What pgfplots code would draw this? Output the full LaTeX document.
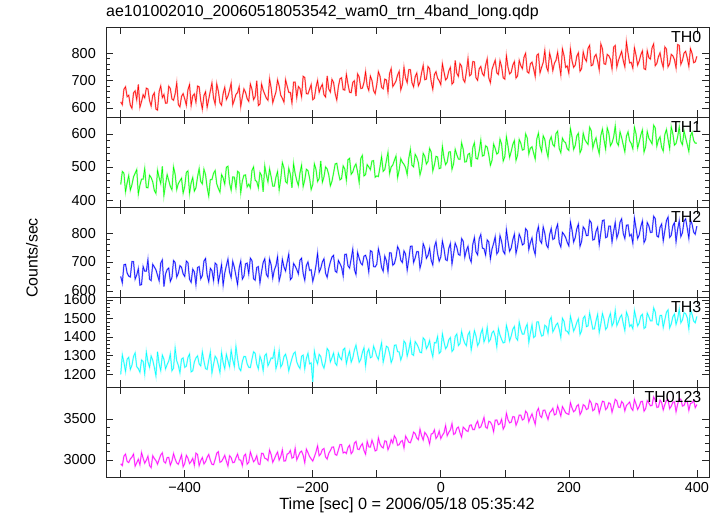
\documentclass[border=0pt]{standalone}
\usepackage{fontspec}
\setmainfont{Liberation Sans}
\usepackage{pgfplots}
\usepackage{pgfplotstable}
\pgfplotsset{compat=1.18}
\definecolor{cR}{rgb}{1,0,0}
\definecolor{cG}{rgb}{0,1,0}
\definecolor{cB}{rgb}{0,0,1}
\definecolor{cC}{rgb}{0,1,1}
\definecolor{cM}{rgb}{1,0,1}

\pgfplotstableread{
t a b c d e
-500 622 447 650 1198 2950
-497.5 612 486 628 1303 2930
-495 668 481 690 1262 3045
-492.5 677 425 692 1214 3070
-490 641 452 662 1280 2980
-487.5 646 474 651 1290 2967
-485 610 430 648 1225 3010
-482.5 599 446 701 1247 3033
-480 655 470 701 1295 3070
-477.5 662 481 641 1314 2922
-475 630 492 655 1240 2965
-472.5 686 418 677 1229 3007
-470 603 445 620 1210 2940
-467.5 623 463 622 1276 3088
-465 648 463 684 1268 3020
-462.5 637 495 668 1201 2959
-460 672 438 668 1318 2995
-457.5 669 437 708 1266 3044
-455 627 475 640 1236 2930
-452.5 607 468 636 1297 2904
-450 645 455 692 1275 3050
-447.5 655 429 683 1236 3016
-445 596 420 673 1190 2990
-442.5 592 490 654 1321 2947
-440 660 468 635 1255 3005
-437.5 680 450 696 1219 3059
-435 638 502 707 1302 3085
-432.5 649 414 615 1280 2978
-430 617 447 658 1228 2960
-427.5 618 477 674 1251 3027
-425 679 459 679 1270 3030
-422.5 671 441 633 1308 2935
-420 633 431 646 1218 2985
-417.5 628 500 705 1232 3075
-415 651 478 698 1340 3010
-412.5 691 432 648 1271 2962
-410 612 450 661 1247 2945
-407.5 604 458 687 1207 3002
-405 642 466 682 1281 3060
-402.5 652 421 659 1287 2916
-400 633 441 650 1236 2955
-397.5 610 484 703 1242 3054
-395 666 488 698 1289 3020
-392.5 685 420 640 1308 2955
-390 609 452 630 1212 2980
-387.5 644 468 675 1217 3018
-385 651 427 666 1265 2935
-382.5 621 437 622 1287 3081
-380 680 470 681 1298 3065
-377.5 677 495 684 1255 2929
-375 627 456 642 1244 2990
-372.5 596 449 653 1320 3027
-370 645 493 703 1270 2950
-367.5 659 477 712 1229 2977
-365 603 438 655 1225 3030
-362.5 632 412 632 1275 3066
-360 662 462 678 1318 2995
-357.5 691 462 670 1206 2946
-355 636 481 636 1252 2940
-352.5 614 489 696 1296 3004
-350 688 449 691 1283 3080
-347.5 661 435 630 1248 3099
-345 619 424 658 1208 2970
-342.5 610 477 691 1316 2980
-340 653 467 620 1262 3015
-337.5 675 448 662 1229 3055
-335 631 499 687 1306 2985
-332.5 643 502 710 1273 2924
-330 664 451 665 1240 3050
-327.5 690 430 646 1328 3027
-325 612 470 702 1277 2965
-322.5 629 469 682 1241 2969
-320 649 436 652 1349 3025
-317.5 656 487 622 1284 3070
-315 677 483 679 1231 3000
-312.5 605 422 703 1218 2996
-310 640 458 641 1268 2930
-307.5 669 475 651 1295 3046
-305 657 476 694 1294 3070
-302.5 634 440 696 1255 2947
-300 624 448 659 1236 2970
-297.5 687 437 713 1235 3096
-295 668 489 705 1280 3035
-292.5 630 500 642 1320 2976
-290 641 460 637 1312 3000
-287.5 699 456 681 1253 3050
-285 609 437 684 1228 2950
-282.5 614 483 628 1296 2943
-280 687 474 666 1271 3080
-277.5 665 425 698 1219 3077
-275 650 503 711 1299 3020
-272.5 636 476 657 1309 3012
-270 628 455 648 1245 2990
-267.5 706 494 710 1264 3119
-265 673 470 690 1287 3065
-262.5 619 442 644 1284 2970
-260 639 442 673 1328 3010
-257.5 658 469 687 1229 3058
-255 702 486 718 1260 3095
-252.5 680 431 635 1325 2997
-250 646 464 657 1238 3040
-247.5 635 513 709 1253 3122
-245 621 497 683 1294 2985
-242.5 703 456 669 1307 2987
-240 680 451 700 1273 3070
-237.5 657 496 727 1217 3079
-235 657 478 639 1252 3115
-232.5 618 437 646 1284 3020
-230 694 510 695 1310 3030
-227.5 694 480 686 1319 3141
-225 638 459 674 1266 3000
-222.5 678 444 659 1244 3043
-220 671 482 706 1230 3090
-217.5 641 505 713 1296 3107
-215 715 441 660 1302 3055
-212.5 711 461 637 1229 2965
-210 652 493 688 1285 3130
-207.5 651 489 700 1312 3088
-205 668 467 671 1255 3040
-202.5 685 432 673 1260 3011
-200 630 447 633 1158 2985
-197.5 635 509 655 1323 3037
-195 675 493 687 1280 3095
-192.5 700 456 730 1255 3171
-190 657 465 665 1306 3050
-187.5 675 518 678 1295 3073
-185 686 454 700 1251 3125
-182.5 648 470 711 1232 3138
-180 640 500 661 1272 3035
-177.5 717 494 647 1338 3010
-175 669 476 678 1325 3080
-172.5 658 443 700 1266 3113
-170 704 457 717 1288 3155
-167.5 693 482 723 1313 3157
-165 652 509 669 1259 3065
-162.5 629 511 664 1247 3056
-160 678 483 705 1312 3120
-157.5 706 461 694 1289 3186
-155 710 465 682 1277 3185
-152.5 667 503 652 1331 3084
-150 665 494 726 1340 3095
-147.5 722 460 727 1256 3078
-145 687 522 687 1295 3150
-142.5 657 526 679 1324 3178
-140 656 478 711 1264 3075
-137.5 693 485 744 1287 3101
-135 699 501 674 1330 3205
-132.5 643 509 657 1356 3225
-130 724 485 733 1308 3130
-127.5 713 453 713 1264 3126
-125 671 526 696 1279 3170
-122.5 672 535 690 1317 3197
-120 693 473 720 1342 3115
-117.5 732 477 723 1245 3068
-115 680 507 705 1316 3225
-112.5 664 500 666 1335 3159
-110 716 492 739 1288 3155
-107.5 700 518 736 1293 3240
-105 663 519 684 1350 3185
-102.5 652 469 683 1326 3109
-100 685 473 692 1296 3120
-97.5 732 471 745 1279 3268
-95 716 500 721 1327 3195
-92.5 675 531 681 1368 3159
-90 670 487 668 1265 3145
-87.5 705 492 720 1304 3232
-85 702 519 705 1350 3225
-82.5 658 544 667 1344 3124
-80 726 480 732 1311 3170
-77.5 743 500 731 1262 3247
-75 678 506 689 1285 3205
-72.5 687 520 694 1355 3293
-70 698 533 716 1357 3260
-67.5 720 468 753 1321 3177
-65 733 491 741 1319 3185
-62.5 666 525 706 1276 3224
-60 685 514 698 1302 3235
-57.5 748 508 738 1378 3145
-55 709 498 727 1366 3290
-52.5 692 477 672 1297 3254
-50 740 526 709 1331 3215
-47.5 740 553 754 1378 3209
-45 692 505 755 1307 3265
-42.5 677 500 698 1301 3338
-40 714 538 714 1375 3320
-37.5 727 529 736 1362 3267
-35 681 513 736 1344 3245
-32.5 694 476 679 1318 3374
-30 728 495 701 1315 3295
-27.5 755 541 763 1395 3242
-25 703 532 748 1385 3335
-22.5 705 509 713 1337 3310
-20 751 517 723 1353 3270
-17.5 743 556 747 1381 3195
-15 696 545 706 1327 3315
-12.5 668 488 690 1293 3321
-10 722 506 752 1370 3365
-7.5 732 532 770 1368 3261
-5 708 530 728 1402 3290
-2.5 699 495 703 1312 3352
0 685 497 717 1321 3260
2.5 761 562 772 1417 3300
5 731 528 746 1373 3330
7.5 702 507 708 1337 3418
10 709 515 705 1350 3295
12.5 735 545 747 1385 3336
15 748 546 764 1397 3365
17.5 687 493 693 1322 3443
20 694 510 728 1333 3310
22.5 773 553 765 1403 3322
25 726 537 751 1416 3385
27.5 715 524 726 1354 3401
30 761 523 723 1365 3330
32.5 752 573 781 1430 3277
35 704 554 772 1391 3400
37.5 694 515 717 1366 3380
40 732 516 740 1353 3355
42.5 780 538 754 1412 3347
45 717 541 714 1428 3420
47.5 722 500 700 1331 3427
50 769 559 761 1382 3370
52.5 768 573 784 1434 3368
55 710 526 735 1405 3435
57.5 701 524 725 1353 3473
60 743 548 780 1370 3390
62.5 751 581 795 1419 3402
65 725 533 748 1443 3455
67.5 717 535 746 1374 3519
70 756 564 724 1397 3400
72.5 779 560 776 1451 3385
75 709 537 769 1374 3470
77.5 692 505 711 1386 3462
80 740 520 745 1422 3425
82.5 758 569 764 1432 3344
85 774 556 787 1403 3485
87.5 728 539 728 1347 3487
90 722 543 736 1445 3430
92.5 772 584 791 1410 3441
95 751 569 771 1387 3495
97.5 710 518 737 1368 3376
100 705 531 728 1372 3415
102.5 790 591 811 1463 3569
105 748 563 771 1428 3490
107.5 724 529 737 1379 3452
110 730 547 748 1405 3460
112.5 756 568 777 1442 3528
115 769 580 796 1457 3525
117.5 709 520 730 1396 3423
120 717 536 755 1383 3470
122.5 773 583 796 1480 3547
125 754 572 782 1441 3545
127.5 743 551 759 1415 3487
130 785 553 763 1416 3500
132.5 799 600 815 1450 3595
135 732 588 808 1469 3570
137.5 727 539 743 1371 3466
140 761 557 767 1422 3520
142.5 767 561 783 1466 3561
145 743 542 745 1397 3495
147.5 715 524 726 1404 3434
150 792 585 800 1481 3590
152.5 797 602 822 1482 3629
155 728 563 774 1434 3540
157.5 748 547 765 1405 3518
160 766 594 821 1409 3605
162.5 809 583 799 1463 3608
165 750 551 759 1456 3550
167.5 734 530 749 1420 3493
170 800 579 795 1490 3575
172.5 776 591 816 1506 3596
175 736 568 778 1428 3630
177.5 763 562 781 1444 3549
180 774 601 813 1465 3560
182.5 803 608 830 1475 3657
185 759 556 767 1442 3600
187.5 721 543 752 1398 3536
190 815 587 802 1501 3650
192.5 791 577 795 1485 3614
195 748 573 785 1434 3575
197.5 753 555 768 1431 3563
200 727 550 756 1417 3555
202.5 815 616 838 1512 3699
205 772 591 810 1475 3635
207.5 748 553 769 1432 3588
210 756 565 784 1451 3605
212.5 789 594 815 1479 3658
215 801 602 831 1498 3675
217.5 734 543 754 1414 3553
220 743 554 771 1434 3590
222.5 804 602 821 1501 3674
225 780 583 813 1513 3660
227.5 770 575 791 1456 3615
230 817 568 792 1460 3625
232.5 828 620 844 1529 3727
235 754 610 836 1486 3695
237.5 757 557 776 1443 3601
240 787 576 778 1444 3615
242.5 795 588 806 1488 3690
245 770 559 820 1522 3680
247.5 739 540 760 1425 3571
250 833 595 801 1471 3645
252.5 816 614 843 1527 3716
255 761 581 845 1495 3710
257.5 759 554 784 1441 3614
260 795 618 787 1453 3635
262.5 790 602 824 1502 3698
265 778 564 824 1527 3685
267.5 743 573 769 1460 3582
270 822 590 806 1479 3655
272.5 828 624 837 1543 3739
275 749 574 783 1462 3720
277.5 773 565 800 1482 3645
280 790 606 838 1506 3640
282.5 806 589 849 1519 3711
285 773 567 799 1473 3690
287.5 750 546 781 1435 3599
290 841 593 827 1534 3665
292.5 799 606 828 1511 3684
295 764 579 790 1457 3705
297.5 766 571 795 1466 3632
300 745 555 765 1445 3605
302.5 819 620 852 1543 3738
305 792 600 817 1502 3680
307.5 756 557 781 1460 3616
310 771 576 794 1476 3655
312.5 794 597 823 1514 3711
315 808 612 842 1523 3715
317.5 743 545 767 1446 3595
320 740 561 778 1453 3625
322.5 808 607 836 1529 3722
325 783 587 825 1510 3695
327.5 778 579 802 1487 3660
330 819 570 803 1487 3665
332.5 833 626 858 1557 3767
335 754 618 850 1535 3730
337.5 762 563 790 1471 3641
340 787 582 786 1464 3645
342.5 801 591 820 1516 3730
345 768 559 831 1517 3700
347.5 748 548 773 1452 3610
350 822 598 808 1493 3675
352.5 815 613 843 1534 3727
355 750 584 855 1546 3735
357.5 761 555 785 1449 3625
360 795 621 792 1470 3655
362.5 790 600 825 1509 3704
365 776 566 836 1524 3710
367.5 746 571 770 1468 3588
370 831 591 813 1498 3680
372.5 828 621 842 1551 3746
375 759 577 788 1477 3740
377.5 773 567 801 1492 3656
380 800 609 841 1531 3665
382.5 806 588 849 1526 3716
385 782 568 817 1504 3715
387.5 752 547 782 1445 3605
390 816 594 846 1549 3690
392.5 799 605 831 1522 3695
395 765 580 803 1486 3725
397.5 768 572 796 1477 3638
400 788 572 824 1511 3675
}\lc

\pgfplotsset{
  panel/.style={
    anchor=south west, width=603bp, height=90bp, scale only axis,
    xmin=-523, xmax=419, xtick={-500,-400,...,400},
    minor y tick num=4,
    tick align=inside, major tick length=7bp, minor tick length=4bp,
    axis line style={line width=0.8pt, black!85},
    every tick/.style={black!85, line width=0.6pt},
    ticklabel style={font=\fontsize{14.5}{16}\selectfont},
    /pgf/number format/assume math mode=true,
    /pgf/number format/1000 sep={},
    yticklabel style={inner sep=0pt, xshift=-10bp},
    xticklabel style={yshift=-2bp},
  },
}
\tikzset{lab/.style={anchor=north east, inner sep=1.5bp, yshift=-3bp, font=\fontsize{16}{18}\selectfont}}

\begin{document}
\begin{tikzpicture}
\path (0,0) rectangle (723bp,516bp);

\node[anchor=base west, inner sep=0pt, font=\fontsize{16}{18}\selectfont] at (106bp,499bp)
  {ae101002010\_20060518053542\_wam0\_trn\_4band\_long.qdp};
\node[anchor=base, inner sep=0pt, font=\fontsize{16.3}{18}\selectfont] at (407bp,7bp)
  {Time [sec] 0 = 2006/05/18 05:35:42};
\node[rotate=90, anchor=center, inner sep=0pt, font=\fontsize{16}{18}\selectfont] at (32bp,258bp)
  {Counts/sec};

\begin{axis}[panel, at={(106bp,399bp)}, ymin=567, ymax=895, ytick={600,700,800}, xticklabels={}]
  \addplot[forget plot, cR!40, line width=1.5pt, mark=none] table[x=t,y=a]{\lc};
  \addplot[cR, line width=0.5pt, mark=none] table[x=t,y=a]{\lc};
  \node[lab] at (rel axis cs:0.99,1) {TH0};
\end{axis}

\begin{axis}[panel, at={(106bp,309bp)}, ymin=379, ymax=651, ytick={400,500,600}, xticklabels={}]
  \addplot[forget plot, cG!40, line width=1.5pt, mark=none] table[x=t,y=b]{\lc};
  \addplot[cG, line width=0.5pt, mark=none] table[x=t,y=b]{\lc};
  \node[lab] at (rel axis cs:0.99,1) {TH1};
\end{axis}

\begin{axis}[panel, at={(106bp,219bp)}, ymin=579, ymax=890, ytick={600,700,800}, xticklabels={}]
  \addplot[forget plot, cB!40, line width=1.5pt, mark=none] table[x=t,y=c]{\lc};
  \addplot[cB, line width=0.5pt, mark=none] table[x=t,y=c]{\lc};
  \node[lab] at (rel axis cs:0.99,1) {TH2};
\end{axis}

\begin{axis}[panel, at={(106bp,129bp)}, ymin=1130, ymax=1616, ytick={1200,1300,1400,1500,1600}, xticklabels={}]
  \addplot[forget plot, cC!40, line width=1.5pt, mark=none] table[x=t,y=d]{\lc};
  \addplot[cC, line width=0.5pt, mark=none] table[x=t,y=d]{\lc};
  \node[lab] at (rel axis cs:0.99,1) {TH3};
\end{axis}

\begin{axis}[panel, at={(106bp,39bp)}, ymin=2790, ymax=3890, ytick={3000,3500},
    xticklabels={{},−400,{},−200,{},0,{},200,{},400}]
  \addplot[forget plot, cM!40, line width=1.5pt, mark=none] table[x=t,y=e]{\lc};
  \addplot[cM, line width=0.5pt, mark=none] table[x=t,y=e]{\lc};
  \node[lab] at (rel axis cs:0.99,1) {TH0123};
\end{axis}
\end{tikzpicture}
\end{document}
